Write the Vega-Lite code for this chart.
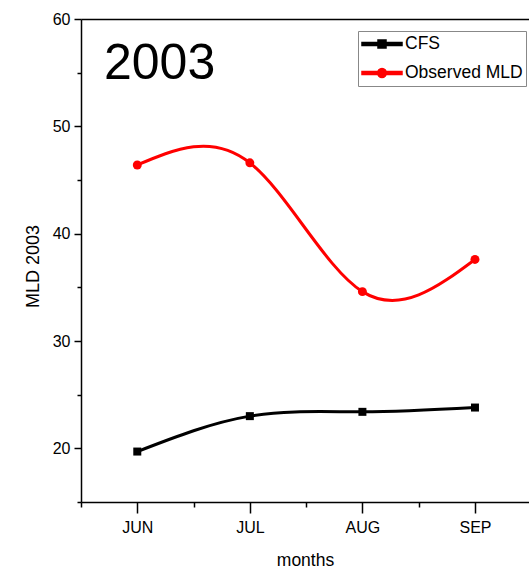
{
  "$schema": "https://vega.github.io/schema/vega-lite/v6.json",
  "autosize": "none",
  "width": 448,
  "height": 483,
  "padding": {"left": 81, "top": 19, "right": 0, "bottom": 75},
  "background": "white",
  "title": {
    "text": "2003",
    "orient": "top",
    "anchor": "start",
    "frame": "group",
    "font": "Liberation Sans",
    "fontSize": 50,
    "fontWeight": "normal",
    "color": "black",
    "baseline": "alphabetic",
    "offset": 0,
    "dx": 23,
    "dy": 118
  },
  "data": {
    "values": [
      {"month": 1, "series": "CFS", "mld": 19.7},
      {"month": 2, "series": "CFS", "mld": 23.0},
      {"month": 3, "series": "CFS", "mld": 23.4},
      {"month": 4, "series": "CFS", "mld": 23.8},
      {"month": 1, "series": "Observed MLD", "mld": 46.4},
      {"month": 2, "series": "Observed MLD", "mld": 46.6},
      {"month": 3, "series": "Observed MLD", "mld": 34.6},
      {"month": 4, "series": "Observed MLD", "mld": 37.6}
    ]
  },
  "layer": [
    {
      "mark": {"type": "line", "interpolate": "natural", "strokeWidth": 3},
      "encoding": {
        "x": {
          "field": "month", "type": "quantitative",
          "scale": {"domain": [0.5, 4.48], "nice": false, "zero": false},
          "axis": {
            "orient": "bottom", "values": [1, 2, 3, 4],
            "labelExpr": "['', 'JUN', 'JUL', 'AUG', 'SEP'][datum.value]",
            "tickSize": 11, "tickWidth": 1.5, "domainWidth": 1.5,
            "labelFont": "Liberation Sans", "labelFontSize": 16, "labelPadding": 6,
            "title": "months", "titleFont": "Liberation Sans", "titleFontSize": 17.5,
            "titleFontWeight": "normal", "titlePadding": 16
          }
        },
        "y": {
          "field": "mld", "type": "quantitative",
          "scale": {"domain": [15, 60], "nice": false, "zero": false},
          "axis": {
            "orient": "left", "values": [20, 30, 40, 50, 60],
            "tickSize": 7, "tickWidth": 1.5, "domainWidth": 1.5,
            "labelFont": "Liberation Sans", "labelFontSize": 16, "labelPadding": 4,
            "title": "MLD 2003", "titleFont": "Liberation Sans", "titleFontSize": 18,
            "titleFontWeight": "normal", "titlePadding": 10, "titleY": 247
          }
        },
        "color": {
          "field": "series", "type": "nominal",
          "scale": {"domain": ["CFS", "Observed MLD"], "range": ["#000000", "#ff0000"]},
          "legend": {
            "orient": "none", "legendX": 277, "legendY": 12, "title": null,
            "labelFont": "Liberation Sans", "labelFontSize": 17.5, "labelColor": "black",
            "symbolSize": 1600, "symbolOffset": 0, "labelOffset": 2,
            "clipHeight": 20, "padding": 3, "rowPadding": 9,
            "strokeColor": "#888888", "fillColor": "white",
            "encode": {
              "symbols": {
                "update": {
                  "shape": [
                    {"test": "datum.value === 'CFS'", "value": "M-1,-0.075H1V0.075H-1ZM-0.2,-0.2H0.2V0.2H-0.2Z"},
                    {"value": "M-1,-0.075H1V0.075H-1ZM-0.22,0A0.22,0.22 0 1,1 0.22,0A0.22,0.22 0 1,1 -0.22,0Z"}
                  ],
                  "fill": {"scale": "color", "field": "value"},
                  "stroke": {"value": "transparent"},
                  "size": {"value": 1600},
                  "opacity": {"value": 1}
                }
              }
            }
          }
        }
      }
    },
    {
      "transform": [{"filter": "datum.series === 'CFS'"}],
      "mark": {"type": "square", "size": 64, "filled": true, "opacity": 1},
      "encoding": {
        "x": {
          "field": "month", "type": "quantitative",
          "axis": {"orient": "top", "labels": false, "ticks": false, "domainWidth": 1.5, "title": null}
        },
        "y": {
          "field": "mld", "type": "quantitative",
          "axis": {
            "orient": "left", "values": [15, 25, 35, 45, 55], "tickSize": 4, "tickWidth": 1.5,
            "labels": false, "domain": false, "title": null
          }
        },
        "color": {"field": "series", "type": "nominal"}
      }
    },
    {
      "transform": [{"filter": "datum.series === 'Observed MLD'"}],
      "mark": {"type": "circle", "size": 80, "opacity": 1},
      "encoding": {
        "x": {
          "field": "month", "type": "quantitative",
          "axis": {
            "orient": "bottom", "values": [0.5, 1.5, 2.5, 3.5], "tickSize": 5, "tickWidth": 1.5,
            "labels": false, "domain": false, "title": null
          }
        },
        "y": {"field": "mld", "type": "quantitative", "axis": null},
        "color": {"field": "series", "type": "nominal"}
      }
    }
  ],
  "resolve": {"axis": {"x": "independent", "y": "independent"}},
  "config": {
    "view": {"stroke": null},
    "axis": {
      "grid": false,
      "domainColor": "black",
      "tickColor": "black",
      "labelColor": "black",
      "titleColor": "black"
    }
  }
}
